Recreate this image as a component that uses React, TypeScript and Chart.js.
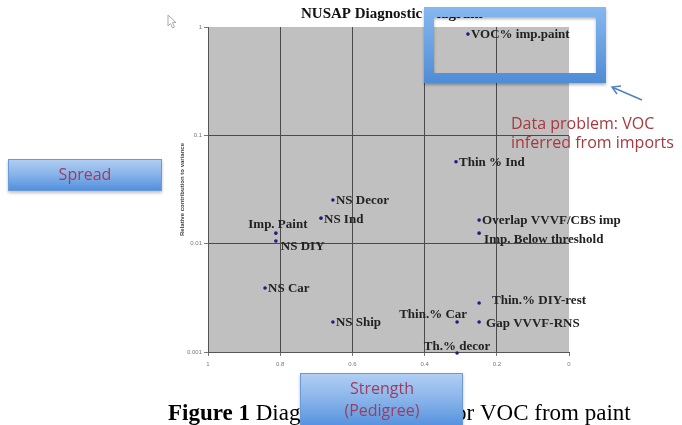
import React, { useEffect, useRef } from "react";
import { Chart, registerables } from "chart.js";

Chart.register(...registerables);

const POINT_LABELS = [
  "VOC% imp.paint",
  "Thin % Ind",
  "NS Decor",
  "NS Ind",
  "Imp. Paint",
  "NS DIY",
  "NS Car",
  "NS Ship",
  "Overlap VVVF/CBS imp",
  "Imp. Below threshold",
  "Thin.% DIY-rest",
  "Gap VVVF-RNS",
  "Thin.% Car",
  "Th.% decor",
];
const STRENGTH = [0.28, 0.313, 0.654, 0.687, 0.812, 0.812, 0.842, 0.654, 0.249, 0.249, 0.249, 0.249, 0.31, 0.31];
const SPREAD = [0.86, 0.057, 0.0253, 0.0172, 0.0125, 0.0106, 0.0039, 0.00189, 0.0165, 0.0125, 0.00283, 0.00189, 0.00189, 0.00098];
const X_TICKS = [1, 0.8, 0.6, 0.4, 0.2, 0];
const Y_TICKS = [1, 0.1, 0.01, 0.001];
const LABEL_SIDE = [
  "right", "right", "right", "right", "above", "rightBelow", "right",
  "right", "right", "rightBelow", "rightFar", "rightGap", "aboveLeft", "aboveNear",
];

const TITLE = "NUSAP Diagnostic Diagram";
const Y_TITLE = "Relative contribution to variance";
const CAPTION_BOLD = "Figure 1";
const CAPTION_REST = " Diagnostic Diagram for VOC from paint";
const NOTE_LINES = ["Data problem: VOC", "inferred from imports"];
const SPREAD_BOX = "Spread";
const STRENGTH_BOX = ["Strength", "(Pedigree)"];

function blueBox(ctx: CanvasRenderingContext2D, x: number, y: number, w: number, h: number) {
  ctx.save();
  ctx.shadowColor = "rgba(0,0,0,0.25)";
  ctx.shadowBlur = 3;
  ctx.shadowOffsetY = 2;
  const g = ctx.createLinearGradient(0, y, 0, y + h);
  g.addColorStop(0, "#b3cff3");
  g.addColorStop(0.5, "#86b2ea");
  g.addColorStop(1, "#4f8edd");
  ctx.fillStyle = g;
  ctx.fillRect(x, y, w, h);
  ctx.restore();
  ctx.strokeStyle = "#6a9ad6";
  ctx.lineWidth = 1;
  ctx.strokeRect(x + 0.5, y + 0.5, w - 1, h - 1);
}

export default function App() {
  const ref = useRef<HTMLCanvasElement | null>(null);

  useEffect(() => {
    document.body.style.margin = "0";
    const canvas = ref.current;
    if (!canvas) return;

    const decor = {
      id: "decor",
      beforeDraw(chart: any) {
        const { ctx, chartArea: a } = chart;
        ctx.save();
        ctx.fillStyle = "#ffffff";
        ctx.fillRect(0, 0, chart.width, chart.height);
        ctx.fillStyle = "#c0c0c0";
        ctx.fillRect(a.left, a.top, a.right - a.left, a.bottom - a.top);
        ctx.restore();
      },
      afterDraw(chart: any) {
        const { ctx, chartArea: a } = chart;
        ctx.save();
        // point labels
        const meta = chart.getDatasetMeta(0);
        ctx.font = "bold 13px 'Liberation Serif', serif";
        ctx.fillStyle = "#222222";
        ctx.textBaseline = "middle";
        meta.data.forEach((el: any, i: number) => {
          const px = el.x, py = el.y;
          const side = LABEL_SIDE[i];
          const t = POINT_LABELS[i];
          if (side === "right") { ctx.textAlign = "left"; ctx.fillText(t, px + 3, py + 1); }
          else if (side === "rightGap") { ctx.textAlign = "left"; ctx.fillText(t, px + 7, py + 2); }
          else if (side === "rightFar") { ctx.textAlign = "left"; ctx.fillText(t, px + 13, py - 2); }
          else if (side === "rightBelow") { ctx.textAlign = "left"; ctx.fillText(t, px + 5, py + 6); }
          else if (side === "above") { ctx.textAlign = "center"; ctx.fillText(t, px + 2, py - 9); }
          else if (side === "aboveNear") { ctx.textAlign = "center"; ctx.fillText(t, px, py - 6); }
          else if (side === "aboveLeft") { ctx.textAlign = "right"; ctx.fillText(t, px + 10, py - 7); }
        });

        // y-axis title
        ctx.save();
        ctx.translate(182, (a.top + a.bottom) / 2);
        ctx.rotate(-Math.PI / 2);
        ctx.font = "bold 6px 'Liberation Sans', sans-serif";
        ctx.fillStyle = "#444";
        ctx.textAlign = "center";
        ctx.textBaseline = "middle";
        ctx.fillText(Y_TITLE, 0, 0);
        ctx.restore();

        // chart title
        ctx.font = "bold 15px 'Liberation Serif', serif";
        ctx.fillStyle = "#111";
        ctx.textAlign = "left";
        ctx.textBaseline = "alphabetic";
        ctx.fillText(TITLE, 301, 18);

        // cursor
        ctx.beginPath();
        ctx.moveTo(168, 15); ctx.lineTo(168, 26); ctx.lineTo(170.5, 23.5); ctx.lineTo(172.5, 28);
        ctx.lineTo(174.5, 27); ctx.lineTo(172.5, 22.5); ctx.lineTo(176, 22.5); ctx.closePath();
        ctx.fillStyle = "#fff"; ctx.fill();
        ctx.strokeStyle = "#aaa"; ctx.lineWidth = 1; ctx.stroke();

        // blue frame
        ctx.save();
        ctx.shadowColor = "rgba(0,0,0,0.3)";
        ctx.shadowBlur = 3;
        ctx.shadowOffsetY = 2;
        const fg = ctx.createLinearGradient(0, 7, 0, 83);
        fg.addColorStop(0, "#86b8ef");
        fg.addColorStop(1, "#4f8cd6");
        ctx.strokeStyle = fg;
        ctx.lineWidth = 10;
        ctx.strokeRect(429, 12, 172, 66);
        ctx.restore();

        // arrow
        ctx.strokeStyle = "#4f82c2";
        ctx.lineWidth = 1.5;
        ctx.beginPath(); ctx.moveTo(642, 100); ctx.lineTo(613, 87.5); ctx.stroke();
        ctx.beginPath(); ctx.moveTo(621, 86); ctx.lineTo(612, 87); ctx.lineTo(617, 94); ctx.stroke();

        // note
        ctx.font = "16px 'Open Sans', sans-serif";
        ctx.fillStyle = "#a8383e";
        ctx.textAlign = "left";
        ctx.textBaseline = "middle";
        ctx.fillText(NOTE_LINES[0], 511, 124);
        ctx.fillText(NOTE_LINES[1], 511, 143);

        // Spread box
        blueBox(ctx, 8, 159, 154, 32);
        ctx.font = "16px 'Open Sans', sans-serif";
        ctx.fillStyle = "#9e3d5c";
        ctx.textAlign = "center";
        ctx.fillText(SPREAD_BOX, 85, 175);

        // caption
        ctx.fillStyle = "#000";
        ctx.textAlign = "left";
        ctx.textBaseline = "alphabetic";
        ctx.font = "bold 23px 'Liberation Serif', serif";
        const cx = 168;
        ctx.fillText(CAPTION_BOLD, cx, 420);
        const w = ctx.measureText(CAPTION_BOLD).width;
        ctx.font = "23px 'Liberation Serif', serif";
        ctx.fillText(CAPTION_REST, cx + w, 420);

        // Strength box
        blueBox(ctx, 300, 373, 163, 56);
        ctx.font = "16px 'Open Sans', sans-serif";
        ctx.fillStyle = "#9e3d5c";
        ctx.textAlign = "center";
        ctx.textBaseline = "middle";
        ctx.fillText(STRENGTH_BOX[0], 382, 389);
        ctx.fillText(STRENGTH_BOX[1], 382, 411);
        ctx.restore();
      },
    };

    const chart = new Chart(canvas, {
      type: "scatter",
      data: {
        datasets: [
          {
            data: STRENGTH.map((x, i) => ({ x, y: SPREAD[i] })),
            pointRadius: 1.8,
            pointHoverRadius: 1.8,
            pointBackgroundColor: "#1c1c84",
            pointBorderColor: "#1c1c84",
            pointBorderWidth: 0,
            clip: false as any,
          },
        ],
      },
      options: {
        animation: false,
        responsive: false,
        devicePixelRatio: 1,
        events: [],
        layout: { padding: { left: 0, right: 113, top: 27, bottom: 0 } },
        plugins: { legend: { display: false }, tooltip: { enabled: false }, title: { display: false } },
        scales: {
          x: {
            type: "linear",
            min: 0,
            max: 1,
            reverse: true,
            afterBuildTicks: (s: any) => { s.ticks = X_TICKS.map((v) => ({ value: v })); },
            afterFit: (s: any) => { s.height = 73; },
            ticks: {
              font: { size: 6, family: "'Liberation Sans', sans-serif" },
              color: "#777",
              padding: 5,
              maxRotation: 0,
              autoSkip: false,
              callback: (v: any) => String(v),
            },
            grid: {
              color: (c: any) => (c.tick && c.tick.value === 0 ? "rgba(0,0,0,0)" : "#4a4a4a"),
              tickColor: "#777",
              tickLength: 4,
              lineWidth: 1,
            },
            border: { display: true, color: "#555", width: 1 },
          },
          y: {
            type: "logarithmic",
            min: 0.001,
            max: 1,
            afterBuildTicks: (s: any) => { s.ticks = Y_TICKS.map((v) => ({ value: v })); },
            afterFit: (s: any) => { s.width = 208; },
            ticks: {
              font: { size: 6, family: "'Liberation Sans', sans-serif" },
              color: "#777",
              padding: 2,
              autoSkip: false,
              callback: (v: any) => String(v),
            },
            grid: {
              color: (c: any) => (c.tick && c.tick.value === 1 ? "rgba(0,0,0,0)" : "#4a4a4a"),
              tickColor: "#777",
              tickLength: 4,
              lineWidth: 1,
            },
            border: { display: true, color: "#555", width: 1 },
          },
        },
      },
      plugins: [decor],
    } as any);

    return () => chart.destroy();
  }, []);

  return <canvas ref={ref} width={682} height={425} style={{ display: "block" }} />;
}
